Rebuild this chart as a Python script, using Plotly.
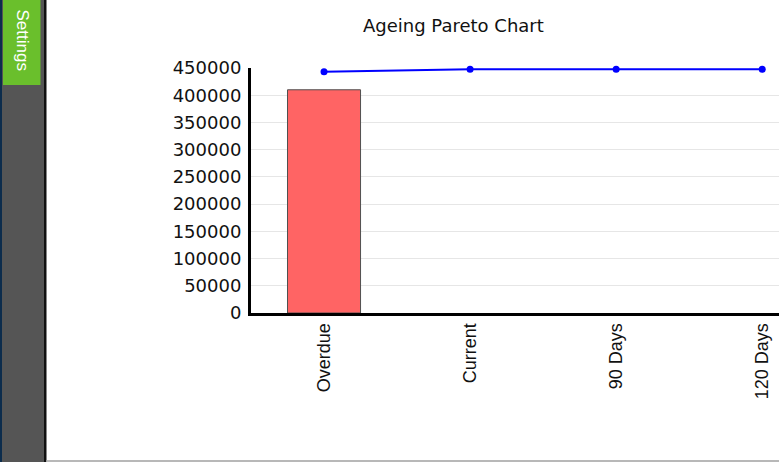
import plotly.graph_objects as go

# ---- data ----
categories = ["Overdue", "Current", "90 Days", "120 Days"]
amounts = [410000, 0, 0, 0]
cumulative_pct = [99.0, 100.0, 100.0, 100.0]
y_ticks = [0, 50000, 100000, 150000, 200000, 250000, 300000, 350000, 400000, 450000]
title_text = "Ageing Pareto Chart"

# ---- layout constants ----
W, H = 779, 462
ML, MT, MB, MR = 251, 68, 149, 0
PW = W - ML - MR
PH = H - MT - MB


def px_x(p):
    return (p - ML) / PW


def px_y(p):
    return (H - MB - p) / PH


fig = go.Figure()
fig.add_trace(go.Bar(
    x=categories, y=amounts, width=0.5,
    marker=dict(color="#ff6464", line=dict(color="#505050", width=[1, 0, 0, 0])),
    hoverinfo="x+y",
))
fig.add_trace(go.Scatter(
    x=categories, y=cumulative_pct, yaxis="y2", mode="lines+markers",
    line=dict(color="#0000ff", width=2), marker=dict(color="#0000ff", size=7),
    cliponaxis=False,
))

shapes = [
    # sidebar
    dict(type="rect", xref="paper", yref="paper", x0=px_x(0), x1=px_x(45), y0=px_y(H), y1=px_y(0),
         fillcolor="#555555", line=dict(width=0), layer="above"),
    dict(type="rect", xref="paper", yref="paper", x0=px_x(0), x1=px_x(2), y0=px_y(H), y1=px_y(0),
         fillcolor="#0c2c4c", line=dict(width=0), layer="above"),
    dict(type="rect", xref="paper", yref="paper", x0=px_x(44), x1=px_x(46.5), y0=px_y(H), y1=px_y(0),
         fillcolor="#111111", line=dict(width=0), layer="above"),
    dict(type="rect", xref="paper", yref="paper", x0=px_x(3), x1=px_x(40.5), y0=px_y(85), y1=px_y(0),
         fillcolor="#6abf2c", line=dict(width=0), layer="above"),
    # bottom border
    dict(type="rect", xref="paper", yref="paper", x0=px_x(46.5), x1=px_x(W), y0=px_y(H), y1=px_y(460),
         fillcolor="#b8b8b8", line=dict(width=0), layer="above"),
]

annotations = [
    dict(text="Settings", xref="paper", yref="paper", x=px_x(21.5), y=px_y(40), textangle=90,
         showarrow=False, font=dict(family="Liberation Sans, Arial", size=17, color="white"),
         xanchor="center", yanchor="middle"),
    dict(text=title_text, xref="paper", yref="paper", x=px_x(453), y=px_y(26),
         showarrow=False, font=dict(family="DejaVu Sans", size=18, color="#111111"),
         xanchor="center", yanchor="middle"),
]

fig.update_layout(
    width=W, height=H,
    margin=dict(l=ML, r=MR, t=MT, b=MB, pad=0),
    paper_bgcolor="white", plot_bgcolor="white",
    showlegend=False, bargap=0.5,
    shapes=shapes, annotations=annotations,
    xaxis=dict(
        type="category", range=[-0.5, 3.115],
        showline=True, linecolor="black", linewidth=3,
        showgrid=False, zeroline=False, ticks="",
        tickangle=-90, ticklabelstandoff=0,
        tickfont=dict(family="Liberation Sans, Arial", size=18, color="#111111"),
    ),
    yaxis=dict(
        range=[0, 450000], tickvals=y_ticks, ticktext=[str(v) for v in y_ticks],
        showline=True, linecolor="black", linewidth=3,
        showgrid=True, gridcolor="#e6e6e6", gridwidth=1, zeroline=False, ticks="",
        ticklabelstandoff=3,
        tickfont=dict(family="DejaVu Sans", size=18, color="#111111"),
    ),
    yaxis2=dict(
        range=[0, 100.53], overlaying="y", side="right", visible=False, showgrid=False,
    ),
)

fig.write_html(
    "out.html",
    config={"displayModeBar": False},
    post_script="document.body.style.margin='0';document.body.style.overflow='hidden';",
)
